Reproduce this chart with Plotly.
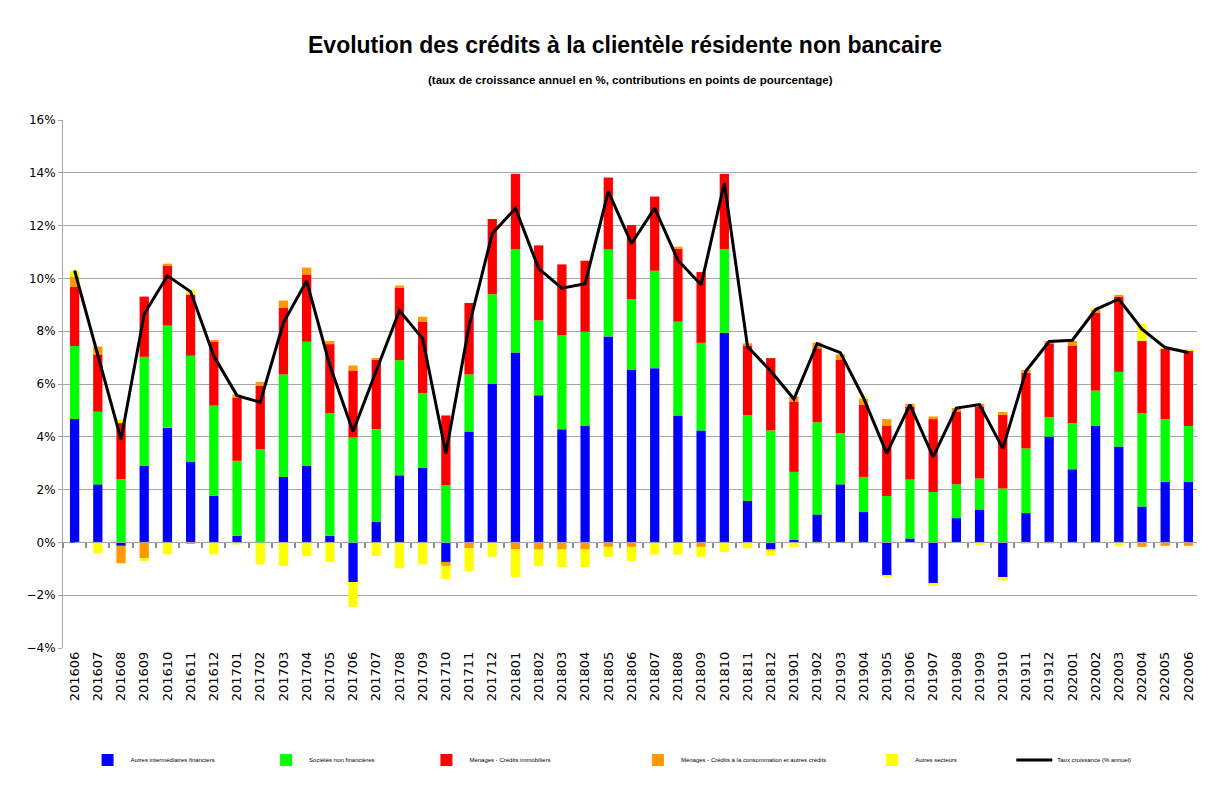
import plotly.graph_objects as go

months = ["201606","201607","201608","201609","201610","201611","201612",
          "201701","201702","201703","201704","201705","201706","201707","201708","201709","201710","201711","201712",
          "201801","201802","201803","201804","201805","201806","201807","201808","201809","201810","201811","201812",
          "201901","201902","201903","201904","201905","201906","201907","201908","201909","201910","201911","201912",
          "202001","202002","202003","202004","202005","202006"]

autres_if = [4.67, 2.20, -0.13, 2.91, 4.34, 3.05, 1.77,
             0.25, 0.00, 2.48, 2.91, 0.25, -1.50, 0.79, 2.54, 2.82, -0.74, 4.20, 6.00,
             7.19, 5.57, 4.29, 4.43, 7.80, 6.55, 6.60, 4.81, 4.24, 7.94, 1.58, -0.25,
             0.09, 1.06, 2.20, 1.15, -1.27, 0.15, -1.55, 0.92, 1.25, -1.31, 1.11, 4.01,
             2.77, 4.43, 3.63, 1.36, 2.29, 2.29]

snf = [2.77, 2.75, 2.39, 4.12, 3.87, 4.02, 3.41,
       2.84, 3.52, 3.88, 4.69, 4.65, 3.97, 3.50, 4.36, 2.84, 2.16, 2.16, 3.40,
       3.92, 2.84, 3.55, 3.55, 3.31, 2.66, 3.69, 3.55, 3.32, 3.17, 3.23, 4.24,
       2.58, 3.49, 1.93, 1.33, 1.76, 2.23, 1.91, 1.28, 1.17, 2.04, 2.45, 0.74,
       1.75, 1.32, 2.83, 3.54, 2.38, 2.12]

menages_immo = [2.25, 2.17, 2.13, 2.28, 2.29, 2.32, 2.42,
                2.38, 2.42, 2.52, 2.55, 2.61, 2.54, 2.64, 2.74, 2.71, 2.65, 2.71, 2.85,
                2.85, 2.84, 2.69, 2.69, 2.71, 2.81, 2.81, 2.76, 2.68, 2.85, 2.66, 2.74,
                2.67, 2.80, 2.78, 2.74, 2.65, 2.77, 2.76, 2.76, 2.73, 2.79, 2.86, 2.79,
                2.92, 2.94, 2.85, 2.73, 2.68, 2.84]

menages_conso = [0.38, 0.30, -0.66, -0.60, 0.06, -0.05, 0.05,
                 0.13, 0.14, 0.28, 0.26, 0.12, 0.19, 0.05, 0.09, 0.18, -0.15, -0.22, 0.00,
                 -0.27, -0.27, -0.27, -0.27, -0.17, -0.17, 0.00, 0.08, -0.17, 0.00, 0.07, -0.05,
                 0.19, 0.22, 0.21, 0.21, 0.26, 0.10, 0.10, 0.13, 0.10, 0.11, 0.11, 0.09,
                 0.19, 0.15, 0.03, -0.17, -0.13, -0.13]

autres_secteurs = [0.22, -0.41, 0.15, -0.10, -0.45, 0.19, -0.45,
                   -0.08, -0.83, -0.89, -0.51, -0.74, -0.94, -0.51, -0.98, -0.83, -0.51, -0.87, -0.55,
                   -1.04, -0.62, -0.66, -0.66, -0.38, -0.53, -0.46, -0.46, -0.38, -0.37, -0.22, -0.20,
                   -0.17, -0.06, 0.00, 0.08, -0.03, 0.00, -0.03, 0.00, -0.10, -0.13, -0.04, -0.04,
                   0.00, 0.03, -0.13, 0.64, 0.05, 0.07]

taux = [10.30, 7.10, 3.90, 8.65, 10.10, 9.50, 7.06,
        5.56, 5.31, 8.33, 9.90, 6.70, 4.20, 6.50, 8.78, 7.72, 3.37, 8.20, 11.70,
        12.66, 10.37, 9.63, 9.80, 13.30, 11.32, 12.66, 10.69, 9.76, 13.61, 7.42, 6.49,
        5.43, 7.53, 7.19, 5.47, 3.37, 5.22, 3.24, 5.09, 5.22, 3.56, 6.49, 7.61,
        7.66, 8.82, 9.22, 8.08, 7.38, 7.19]

series = [
    ("Autres intermédiaires financiers", autres_if, "#0000FF"),
    ("Sociétés non financières", snf, "#00FF00"),
    ("Ménages - Crédits immobiliers", menages_immo, "#FF0000"),
    ("Ménages - Crédits à la consommation et autres crédits", menages_conso, "#FF9900"),
    ("Autres secteurs", autres_secteurs, "#FFFF00"),
]
line_name = "Taux croissance (% annuel)"

W, H = 1197, 790  # page body has an 8px margin
legend_x = [0.019, 0.176, 0.317, 0.503, 0.709, 0.834]
legend_ids = ["legend", "legend2", "legend3", "legend4", "legend5", "legend6"]

fig = go.Figure()
for i, (name, vals, col) in enumerate(series):
    fig.add_trace(go.Bar(x=months, y=[v / 100 for v in vals], name=name, legend=legend_ids[i],
                         marker=dict(color=col, line=dict(width=0))))
fig.add_trace(go.Scatter(x=months, y=[v / 100 for v in taux], name=line_name, legend=legend_ids[5],
                         mode="lines", line=dict(color="black", width=3)))
# helper trace so the zero axis shows category tick marks
fig.add_trace(go.Scatter(x=months, y=[0] * len(months), xaxis="x2", yaxis="y", showlegend=False,
                         hoverinfo="skip", mode="lines", line=dict(color="#A6A6A6", width=1)))

legend_common = dict(orientation="h", xanchor="left", yref="container", y=1 - 752 / H,
                     yanchor="middle", font=dict(size=6, family="Liberation Sans"),
                     itemwidth=36, bgcolor="rgba(0,0,0,0)")
legends = {lid: dict(x=lx, **legend_common) for lid, lx in zip(legend_ids, legend_x)}

fig.update_layout(
    width=W, height=H,
    paper_bgcolor="white", plot_bgcolor="white",
    barmode="relative", bargap=0.6,
    margin=dict(l=55, r=5, t=112, b=150, autoexpand=False),
    font=dict(family="DejaVu Sans", color="black"),
    title=dict(text="<b>Evolution des crédits à la clientèle résidente non bancaire</b>",
               x=617 / W, xanchor="center", yref="container", y=1 - 37 / H, yanchor="middle",
               font=dict(family="Liberation Sans", size=23, color="black")),
    showlegend=True,
    annotations=[dict(text="<b>(taux de croissance annuel en %, contributions en points de pourcentage)</b>",
                      xref="paper", yref="paper", x=0.499, y=(648 - 80) / 528, xanchor="center",
                      yanchor="middle",
                      showarrow=False, font=dict(family="Liberation Sans", size=11.5, color="black"))],
    xaxis=dict(type="category", tickangle=-90, tickfont=dict(size=13, family="DejaVu Sans"),
               showgrid=False, ticks="", showline=False, automargin=False, range=[-0.5, 48.5]),
    xaxis2=dict(overlaying="x", anchor="free", position=(648 - 542) / 528, side="bottom",
                type="category", range=[-0.5, 48.5], showticklabels=False, ticks="outside",
                tickson="boundaries", ticklen=5, tickwidth=1.5, tickcolor="#8C8C8C",
                showgrid=False, showline=False, zeroline=False, automargin=False),
    **legends,
)
fig.update_yaxes(range=[-0.04, 0.16], dtick=0.02, tickformat=".0%",
                 tickfont=dict(size=12, family="DejaVu Sans"), automargin=False,
                 showgrid=True, gridcolor="#A6A6A6", gridwidth=1, zeroline=True, zerolinecolor="#A6A6A6",
                 zerolinewidth=1, showline=True, linecolor="#A6A6A6", ticks="outside", ticklen=4,
                 tickcolor="#A6A6A6")

fig.write_html("out.html")
